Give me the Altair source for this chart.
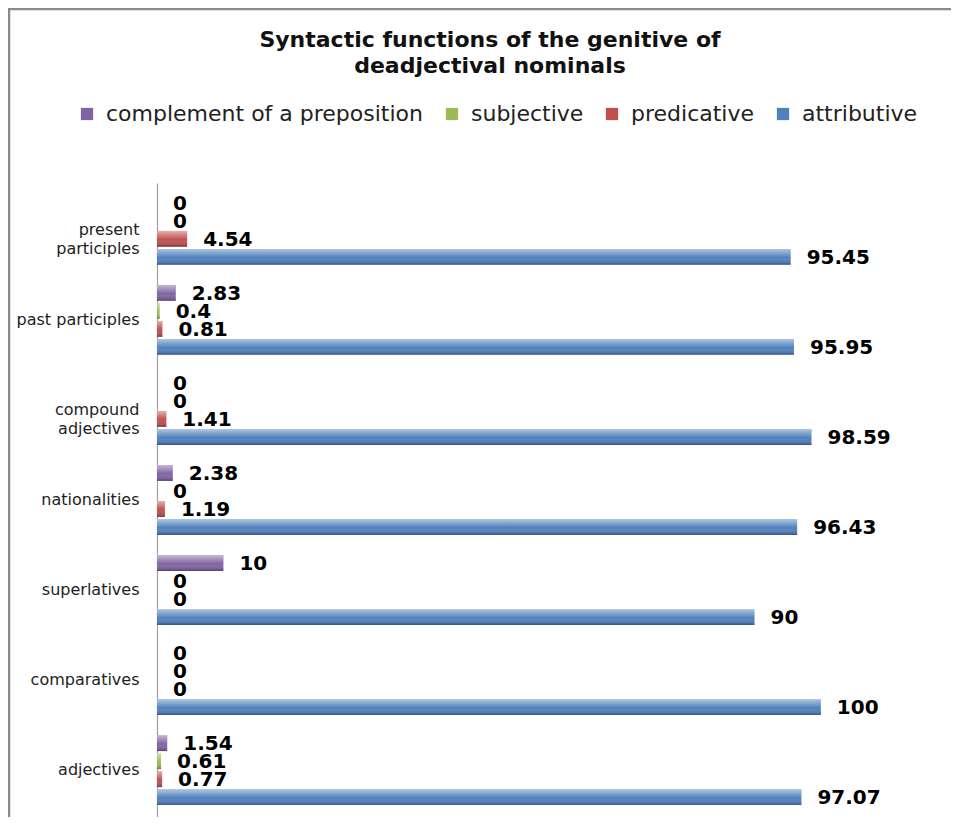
import altair as alt
import pandas as pd

categories = ["present participles", "past participles", "compound adjectives",
              "nationalities", "superlatives", "comparatives", "adjectives"]
series = ["complement of a preposition", "subjective", "predicative", "attributive"]
complement = [0, 2.83, 0, 2.38, 10, 0, 1.54]
subjective = [0, 0.4, 0, 0, 0, 0, 0.61]
predicative = [4.54, 0.81, 1.41, 1.19, 0, 0, 0.77]
attributive = [95.45, 95.95, 98.59, 96.43, 90, 100, 97.07]
colors = ["#8064A2", "#9BBB59", "#C0504D", "#4F81BD"]
title_lines = ["Syntactic functions of the genitive of", "deadjectival nominals"]

rows = []
for s, vals in zip(series, [complement, subjective, predicative, attributive]):
    for c, v in zip(categories, vals):
        rows.append({"category": c, "series": s, "value": v, "label": f"{v:g}"})
df = pd.DataFrame(rows)

W, H = 790, 634

y = alt.Y("category:N", sort=categories,
          scale=alt.Scale(paddingInner=0.2, paddingOuter=0.12),
          axis=alt.Axis(title=None, ticks=False, domain=True, domainColor="#a0a0a0",
                        domainWidth=1.2, labelFont="DejaVu Sans", labelFontSize=16,
                        labelColor="#222222", labelPadding=18, labelLineHeight=19,
                        labelLimit=0,
                        labelExpr="indexof(['present participles','compound adjectives'], datum.label) >= 0 ? split(datum.label, ' ') : datum.label"))
yoff = alt.YOffset("series:N", sort=series,
                   scale=alt.Scale(paddingInner=0.12, paddingOuter=0.06))
x = alt.X("value:Q", scale=alt.Scale(domain=[0, 119], nice=False), axis=None)

base = alt.Chart(df)

bars = base.mark_bar().encode(
    x=x, y=y, yOffset=yoff,
    color=alt.Color("series:N", sort=series,
                    scale=alt.Scale(domain=series, range=colors),
                    legend=alt.Legend(orient="none", legendX=-81, legendY=-80,
                                      direction="horizontal", title=None,
                                      symbolType="square", symbolSize=150,
                                      symbolStrokeWidth=0, labelLimit=0,
                                      labelFont="DejaVu Sans", labelFontSize=22,
                                      labelColor="#222222", columnPadding=17,
                                      labelOffset=8)),
)

shine = base.mark_bar(color=alt.Gradient(
    gradient="linear", x1=0, x2=0, y1=0, y2=1,
    stops=[alt.GradientStop(offset=0, color="rgba(255,255,255,0.55)"),
           alt.GradientStop(offset=0.3, color="rgba(255,255,255,0.25)"),
           alt.GradientStop(offset=0.55, color="rgba(255,255,255,0)"),
           alt.GradientStop(offset=1, color="rgba(0,0,30,0.35)")])).encode(
    x=x, y=y, yOffset=yoff)

labels = base.mark_text(align="left", baseline="middle", dx=16, dy=1,
                        font="DejaVu Sans", fontWeight="bold", fontSize=20,
                        color="#000000").encode(
    x=x, y=y, yOffset=yoff, text="label:N")

one = pd.DataFrame({"f": [0]})
frame_top = alt.Chart(one).mark_rule(color="#8a8a8a", strokeWidth=2.5).encode(
    x=alt.value(-149), x2=alt.value(W + 300), y=alt.value(-174))
frame_left = alt.Chart(one).mark_rule(color="#8a8a8a", strokeWidth=2.5).encode(
    x=alt.value(-148), y=alt.value(-175), y2=alt.value(H + 60))

chart = alt.layer(frame_top, frame_left, bars, shine, labels).properties(
    width=W, height=H,
    background="white",
    title=alt.Title(title_lines, font="DejaVu Sans", fontSize=22, fontWeight="bold",
                    color="#111111", anchor="middle", frame="group", dx=-62,
                    offset=-71, lineHeight=26),
    autosize=alt.AutoSizeParams(type="none"),
    padding={"left": 149, "top": 175, "right": 4, "bottom": 0},
).configure_view(stroke=None)

chart.save("out.html", embed_options={"renderer": "svg", "actions": False})
